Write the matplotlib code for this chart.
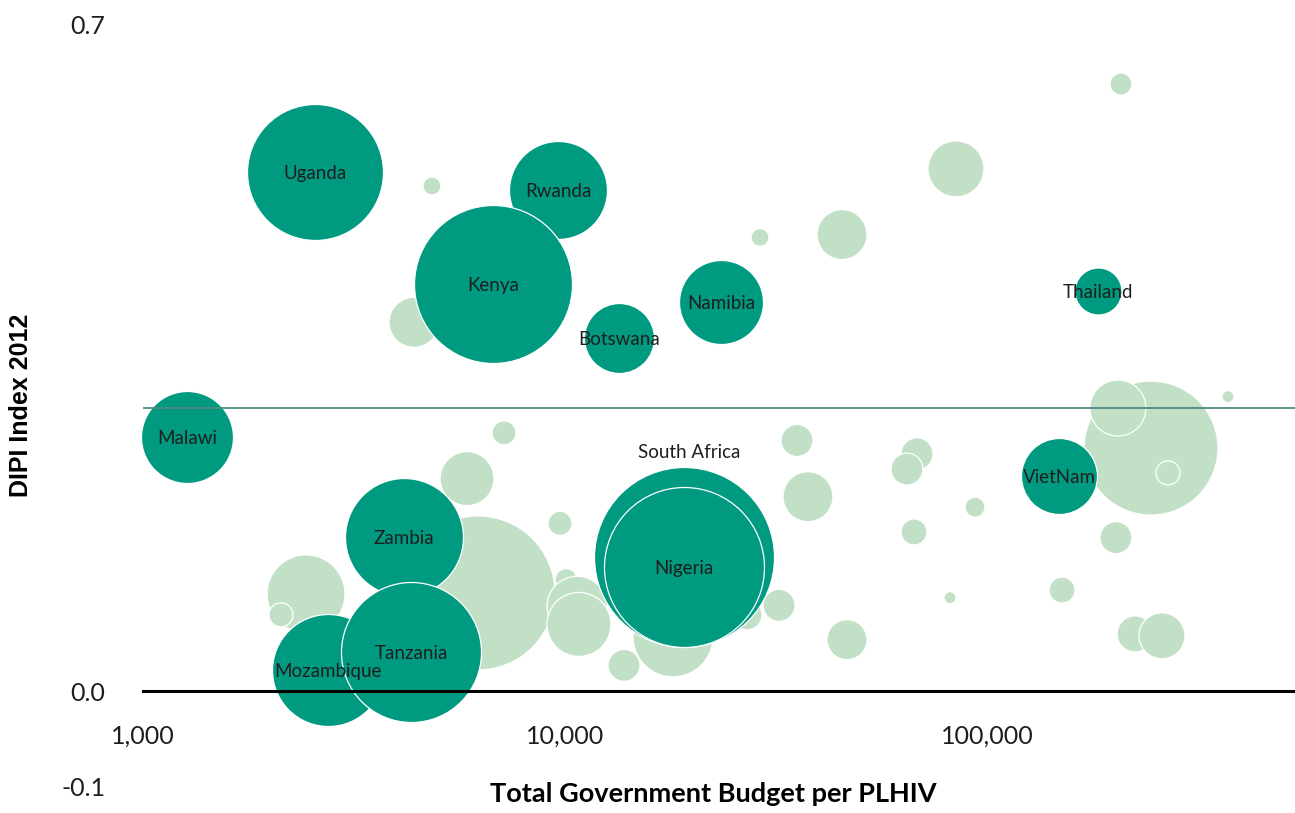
"""
Bubble chart: DIPI Index 2012 vs total government budget per PLHIV.
"""

import numpy as np
import matplotlib
matplotlib.use('Agg')
import matplotlib.pyplot as plt
from matplotlib.ticker import NullLocator

# ──────────────────────────────────────────────
# DATA
# ──────────────────────────────────────────────
# labelled countries (dark bubbles), in drawing order
countries = ['South Africa', 'Nigeria', 'Uganda', 'Rwanda', 'Kenya', 'Namibia',
             'Botswana', 'Thailand', 'Malawi', 'VietNam', 'Zambia',
             'Mozambique', 'Tanzania']
budget = [19140, 19140, 2556, 9625, 6751, 23430,
          13430, 183300, 1271, 148100, 4155,
          2744, 4316]
dipi = [0.141, 0.130, 0.545, 0.526, 0.427, 0.408,
        0.370, 0.420, 0.267, 0.226, 0.162,
        0.022, 0.041]
plhiv_k = [2025, 1600, 1156, 600, 1560, 441,
           306, 138, 529, 361, 870,
           784, 1225]

# other countries (light bubbles), in drawing order
other_budget = [6220, 244700, 2434, 4839, 28980, 4387, 207700, 84430, 45330,
                7171, 5859, 9732, 10060, 10680, 10790, 13800, 18030, 27000,
                32150, 35460, 37650, 46590, 68270, 64620, 93670, 67140, 81720,
                150600, 202100, 224300, 259800, 204300, 268500, 372500, 2123]
other_dipi = [0.103, 0.255, 0.102, 0.530, 0.476, 0.387, 0.637, 0.548, 0.479,
              0.271, 0.223, 0.176, 0.117, 0.089, 0.070, 0.027, 0.057, 0.080,
              0.090, 0.263, 0.204, 0.054, 0.249, 0.233, 0.193, 0.167, 0.098,
              0.106, 0.161, 0.060, 0.058, 0.297, 0.229, 0.309, 0.080]
other_plhiv_k = [1482, 1122, 380, 20, 20, 156, 30, 196, 156,
                 36, 182, 36, 30, 225, 256, 64, 400, 56,
                 64, 64, 156, 100, 64, 64, 25, 42, 9,
                 42, 64, 81, 132, 196, 36, 9, 36]

mean_dipi = 0.297

x_ticks = [1000, 10000, 100000]
x_tick_labels = ['1,000', '10,000', '100,000']
y_ticks = [-0.1, 0.0, 0.7]
y_tick_labels = ['-0.1', '0.0', '0.7']

# ──────────────────────────────────────────────
# STIL
# ──────────────────────────────────────────────
dark = '#009A80'
light = '#C2E0C6'
line_col = '#4E8A80'
txt = '#1E1E1E'
font = 'Lato'

def bubble_area(vals):
    # radius in px = 2*sqrt(value), converted to points^2 for scatter
    r_pt = 2 * np.sqrt(np.asarray(vals, dtype=float)) * 0.72
    return (2 * r_pt) ** 2

# ──────────────────────────────────────────────
# FIGUR
# ──────────────────────────────────────────────
fig = plt.figure(figsize=(12.95, 8.13), dpi=100, facecolor='white')
ax = fig.add_axes([143 / 1295, 26.6 / 813, 1152 / 1295, 762.4 / 813])

ax.set_xscale('log')
ax.set_xlim(1000, 10 ** (3 + 1152 / 422))
ax.set_ylim(-0.1, 0.7)

ax.scatter(other_budget, other_dipi, s=bubble_area(other_plhiv_k),
           color=light, edgecolors='white', linewidths=0.9, zorder=2,
           clip_on=False)

for i in range(len(countries)):
    ax.scatter([budget[i]], [dipi[i]], s=bubble_area([plhiv_k[i]]),
               color=dark, edgecolors='white', linewidths=0.9, zorder=3,
               clip_on=False)

for i, name in enumerate(countries):
    if name == 'South Africa':
        r_pt = 2 * np.sqrt(plhiv_k[i]) * 0.72
        ax.annotate(name, (budget[i], dipi[i]), xytext=(4, r_pt + 11),
                    textcoords='offset points', ha='center', va='center_baseline',
                    fontsize=13.5, family=font, color=txt, zorder=6)
    else:
        ax.text(budget[i], dipi[i], name, ha='center', va='center_baseline',
                fontsize=13.5, family=font, color=txt, zorder=6)

# gjennomsnittslinje
ax.axhline(mean_dipi, color=line_col, lw=1.3, zorder=5)

# ──────────────────────────────────────────────
# AKSER
# ──────────────────────────────────────────────
for side in ['top', 'right', 'left']:
    ax.spines[side].set_visible(False)
ax.spines['bottom'].set_position(('data', 0))
ax.spines['bottom'].set_linewidth(2.2)
ax.spines['bottom'].set_color('black')
ax.spines['bottom'].set_zorder(5)

ax.set_xticks(x_ticks)
ax.set_xticklabels(x_tick_labels)
ax.xaxis.set_minor_locator(NullLocator())
ax.set_yticks(y_ticks)
ax.set_yticklabels(y_tick_labels)

ax.tick_params(axis='x', length=0, pad=24, labelsize=18, labelcolor=txt)
ax.tick_params(axis='y', length=0, pad=27, labelsize=18, labelcolor=txt)
for lab in ax.get_xticklabels() + ax.get_yticklabels():
    lab.set_family(font)

fig.text(713 / 1295, 11 / 813, 'Total Government Budget per PLHIV',
         ha='center', va='baseline', fontsize=19.5, fontweight='bold',
         family=font, color='black')
fig.text(21 / 1295, (813 - 405) / 813, 'DIPI Index 2012',
         rotation=90, ha='center', va='center', fontsize=18,
         fontweight='bold', family='Liberation Sans', color='black')

fig.savefig('out.png', dpi=100, facecolor='white')
plt.close()
